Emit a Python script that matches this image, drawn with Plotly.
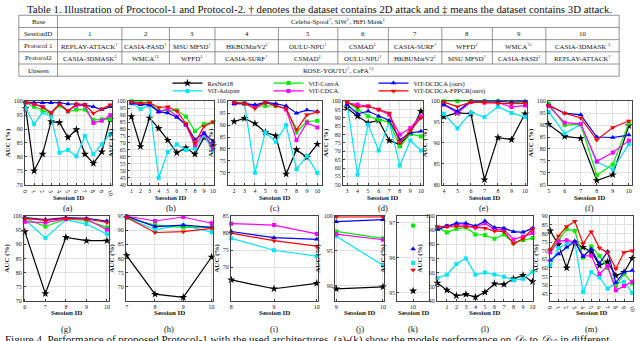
import plotly.graph_objects as go

W, H = 640, 341

# ---------------- table content ----------------
TABLE_TITLE = ("Table 1. Illustration of Proctocol-1 and Protocol-2. † denotes the dataset contains "
               "2D attack and ‡ means the dataset contains 3D attack.")
ROW_HEADERS = ["Base", "SessionID", "Protocol 1", "Protocol2", "Unseen"]
BASE_TEXT = "Celeba-Spoof<sup>†</sup>, SiW<sup>†</sup>, HiFi Mask<sup>‡</sup>"
SESSION_IDS = ["1", "2", "3", "4", "5", "6", "7", "8", "9", "10"]
PROTOCOL1 = ["REPLAY-ATTACK<sup>†</sup>", "CASIA-FASD<sup>†</sup>", "MSU MFSD<sup>†</sup>",
             "HKBUMarV2<sup>‡</sup>", "OULU-NPU<sup>†</sup>", "CSMAD<sup>‡</sup>",
             "CASIA-SURF<sup>†</sup>", "WFFD<sup>‡</sup>", "WMCA<sup>†‡</sup>", "CASIA-3DMASK <sup>‡</sup>"]
PROTOCOL2 = ["CASIA-3DMASK<sup>‡</sup>", "WMCA<sup>†‡</sup>", "WFFD<sup>‡</sup>", "CASIA-SURF<sup>†</sup>",
             "CSMAD<sup>‡</sup>", "OULU-NPU<sup>†</sup>", "HKBUMarV2<sup>‡</sup>", "MSU MFSD<sup>†</sup>",
             "CASIA-FASD<sup>‡</sup>", "REPLAY-ATTACK<sup>†</sup>"]
UNSEEN_TEXT = "ROSE-YOUTU<sup>†</sup>, CeFA<sup>†‡</sup>"

CAPTION = ("Figure 4. Performance of proposed Protocol-1 with the used architectures. (a)-(k) show the "
           "models performance on <i>𝒟</i><sub>0</sub> to <i>𝒟</i><sub>10</sub> in different")

# ---------------- chart data ----------------
MODELS = ["ResNet18", "ViT-Adapter", "ViT-ConvA", "ViT-CDCA", "ViT-DCDCA (ours)", "ViT-DCDCA-FPPCR(ours)"]

SESS_A = [0, 1, 2, 3, 4, 5, 6, 7, 8, 9, 10]
A_RESNET18 = [97.5, 75.0, 81.0, 92.7, 92.3, 87.0, 89.8, 81.0, 77.7, 81.8, 93.5]
A_ADAPTER = [97.5, 91.8, 96.0, 94.5, 81.5, 82.5, 80.2, 87.5, 81.0, 84.5, 88.3]
A_CONVA = [99.5, 98.0, 96.8, 95.5, 98.5, 96.3, 97.0, 97.0, 93.3, 93.5, 93.5]
A_CDCA = [99.5, 99.0, 98.0, 95.8, 99.0, 96.5, 98.5, 98.5, 92.2, 93.0, 95.0]
A_DCDCA = [99.7, 99.5, 99.5, 99.5, 99.5, 99.0, 99.0, 98.7, 98.0, 97.0, 98.0]
A_FPPCR = [99.7, 99.0, 98.0, 95.8, 99.0, 96.5, 99.0, 98.8, 95.7, 97.3, 98.7]

SESS_B = [1, 2, 3, 4, 5, 6, 7, 8, 9, 10]
B_RESNET18 = [89.0, 67.5, 88.0, 80.5, 72.0, 63.0, 66.5, 62.0, 74.0, 68.0]
B_ADAPTER = [98.5, 94.5, 97.0, 45.0, 63.5, 69.0, 65.0, 66.0, 75.5, 64.5]
B_CONVA = [100.0, 99.5, 99.0, 93.0, 93.5, 93.5, 89.0, 78.5, 83.5, 85.0]
B_CDCA = [99.0, 98.0, 97.5, 92.5, 94.5, 89.0, 83.0, 68.5, 77.0, 66.5]
B_DCDCA = [98.5, 97.5, 97.5, 92.5, 91.5, 88.5, 83.5, 72.5, 77.0, 71.0]
B_FPPCR = [99.5, 98.5, 99.0, 95.5, 96.0, 93.0, 84.0, 70.0, 82.0, 85.0]

SESS_C = [2, 3, 4, 5, 6, 7, 8, 9, 10]
C_RESNET18 = [91.5, 92.8, 90.7, 87.0, 85.5, 69.5, 79.7, 76.5, 82.0]
C_ADAPTER = [99.5, 99.0, 70.0, 87.0, 83.0, 90.0, 71.5, 77.0, 70.0]
C_CONVA = [99.5, 99.5, 98.0, 98.0, 98.0, 97.0, 87.0, 91.5, 91.8]
C_CDCA = [99.0, 99.0, 98.0, 99.5, 98.5, 96.5, 83.7, 91.0, 89.0]
C_DCDCA = [99.0, 99.0, 98.5, 99.5, 99.0, 98.0, 95.0, 96.3, 95.7]
C_FPPCR = [99.5, 99.0, 97.0, 99.5, 98.0, 97.0, 88.0, 94.3, 95.5]

SESS_D = [3, 4, 5, 6, 7, 8, 9, 10]
D_RESNET18 = [96.0, 91.0, 87.0, 88.5, 76.5, 74.0, 81.0, 94.0]
D_ADAPTER = [99.0, 56.0, 86.0, 70.5, 87.5, 61.5, 76.5, 70.5]
D_CONVA = [99.5, 95.0, 91.0, 89.0, 87.5, 73.0, 80.5, 79.0]
D_CDCA = [99.0, 98.0, 97.0, 95.0, 92.0, 80.0, 84.0, 91.0]
D_DCDCA = [98.0, 92.5, 94.0, 91.0, 88.5, 77.0, 81.0, 82.0]
D_FPPCR = [99.5, 96.5, 97.0, 95.0, 93.0, 75.0, 82.5, 90.0]

SESS_E = [4, 5, 6, 7, 8, 9, 10]
E_RESNET18 = [96.3, 97.2, 97.0, 81.2, 91.3, 90.8, 97.0]
E_ADAPTER = [97.0, 93.5, 97.3, 96.2, 98.7, 97.2, 96.2]
E_CONVA = [100.0, 100.0, 100.0, 100.0, 100.0, 99.8, 99.8]
E_CDCA = [99.2, 97.2, 99.8, 99.7, 99.7, 98.6, 99.0]
E_DCDCA = [99.2, 97.6, 100.0, 100.0, 100.0, 99.8, 100.0]
E_FPPCR = [99.8, 98.7, 99.8, 99.7, 99.5, 99.4, 99.5]

SESS_F = [5, 6, 7, 8, 9, 10]
F_RESNET18 = [90.3, 85.3, 84.5, 66.8, 69.2, 89.8]
F_ADAPTER = [95.5, 86.5, 90.3, 74.5, 71.5, 82.0]
F_CONVA = [99.0, 90.0, 90.3, 69.0, 73.5, 90.8]
F_CDCA = [98.0, 91.0, 90.5, 74.8, 78.5, 83.5]
F_DCDCA = [98.3, 95.0, 94.3, 85.0, 84.8, 85.8]
F_FPPCR = [98.3, 95.0, 93.0, 83.8, 89.0, 91.7]

SESS_G = [6, 7, 8, 9, 10]
G_RESNET18 = [94.5, 72.5, 92.5, 91.3, 91.3]
G_ADAPTER = [98.8, 92.3, 98.8, 97.2, 93.6]
G_CONVA = [99.2, 96.3, 99.0, 98.5, 96.0]
G_CDCA = [98.0, 97.7, 99.0, 99.0, 95.2]
G_DCDCA = [99.5, 98.8, 99.5, 99.2, 98.3]
G_FPPCR = [99.2, 98.5, 99.2, 99.0, 97.8]

SESS_H = [7, 8, 9, 10]
H_RESNET18 = [81.0, 67.3, 66.2, 80.5]
H_ADAPTER = [94.5, 90.2, 91.8, 89.3]
H_CONVA = [94.5, 91.8, 91.0, 91.0]
H_CDCA = [95.0, 93.3, 94.7, 92.5]
H_DCDCA = [95.0, 91.3, 91.8, 91.0]
H_FPPCR = [94.5, 89.2, 89.5, 90.7]

SESS_I = [8, 9, 10]
I_RESNET18 = [66.3, 63.7, 65.3]
I_ADAPTER = [78.5, 75.0, 73.3]
I_CONVA = None
I_CDCA = [82.8, 82.4, 79.8]
I_DCDCA = [80.5, 78.7, 78.2]
I_FPPCR = [80.0, 77.8, 76.2]

SESS_J = [9, 10]
J_RESNET18 = [89.5, 89.8]
J_ADAPTER = [97.1, 92.9]
J_CONVA = [97.8, 96.8]
J_CDCA = [97.4, 96.6]
J_DCDCA = [99.2, 99.5]
J_FPPCR = [99.9, 99.9]

SESS_K = [10]
K_RESNET18 = [95.05]
K_ADAPTER = [95.85]
K_CONVA = [96.92]
K_CDCA = None
K_DCDCA = [96.25]
K_FPPCR = [95.65]

SESS_L = [0, 1, 2, 3, 4, 5, 6, 7, 8, 9, 10]
L_RESNET18 = [52.5, 47.5, 43.5, 44.5, 42.5, 46.0, 52.0, 51.5, 55.5, 58.0, 53.5]
L_ADAPTER = [56.0, 58.5, 66.0, 70.0, 58.5, 60.0, 58.5, 57.0, 54.5, 55.5, 60.5]
L_CONVA = [92.0, 88.5, 91.0, 92.0, 87.0, 86.5, 84.0, 87.0, 81.0, 83.0, 84.5]
L_CDCA = [92.0, 93.0, 94.0, 93.5, 92.0, 95.0, 90.5, 90.5, 83.5, 85.5, 88.0]
L_DCDCA = [90.5, 93.0, 95.0, 95.0, 93.0, 96.5, 92.0, 91.5, 89.0, 88.5, 91.5]
L_FPPCR = [92.5, 92.5, 93.0, 92.5, 92.0, 91.5, 89.5, 89.0, 80.5, 84.0, 91.0]

SESS_M = [0, 1, 2, 3, 4, 5, 6, 7, 8, 9, 10]
M_RESNET18 = [81.5, 73.5, 60.0, 74.5, 72.0, 69.5, 61.5, 63.5, 55.5, 57.5, 65.5]
M_ADAPTER = [61.5, 71.5, 74.0, 75.0, 46.0, 57.5, 54.5, 48.0, 51.0, 52.0, 45.5]
M_CONVA = [70.5, 76.0, 82.5, 81.5, 66.0, 72.5, 67.0, 60.0, 49.5, 56.5, 51.0]
M_CDCA = [69.0, 75.5, 76.0, 75.0, 67.0, 67.0, 56.5, 61.0, 47.0, 49.5, 52.0]
M_DCDCA = [64.5, 68.0, 72.0, 75.5, 66.5, 71.0, 62.5, 69.5, 51.5, 57.5, 58.5]
M_FPPCR = [70.5, 78.5, 84.0, 87.0, 74.0, 81.0, 71.5, 69.0, 59.5, 69.0, 70.0]

PANELS = [
    ("a", SESS_A, [A_RESNET18, A_ADAPTER, A_CONVA, A_CDCA, A_DCDCA, A_FPPCR]),
    ("b", SESS_B, [B_RESNET18, B_ADAPTER, B_CONVA, B_CDCA, B_DCDCA, B_FPPCR]),
    ("c", SESS_C, [C_RESNET18, C_ADAPTER, C_CONVA, C_CDCA, C_DCDCA, C_FPPCR]),
    ("d", SESS_D, [D_RESNET18, D_ADAPTER, D_CONVA, D_CDCA, D_DCDCA, D_FPPCR]),
    ("e", SESS_E, [E_RESNET18, E_ADAPTER, E_CONVA, E_CDCA, E_DCDCA, E_FPPCR]),
    ("f", SESS_F, [F_RESNET18, F_ADAPTER, F_CONVA, F_CDCA, F_DCDCA, F_FPPCR]),
    ("g", SESS_G, [G_RESNET18, G_ADAPTER, G_CONVA, G_CDCA, G_DCDCA, G_FPPCR]),
    ("h", SESS_H, [H_RESNET18, H_ADAPTER, H_CONVA, H_CDCA, H_DCDCA, H_FPPCR]),
    ("i", SESS_I, [I_RESNET18, I_ADAPTER, I_CONVA, I_CDCA, I_DCDCA, I_FPPCR]),
    ("j", SESS_J, [J_RESNET18, J_ADAPTER, J_CONVA, J_CDCA, J_DCDCA, J_FPPCR]),
    ("k", SESS_K, [K_RESNET18, K_ADAPTER, K_CONVA, K_CDCA, K_DCDCA, K_FPPCR]),
    ("l", SESS_L, [L_RESNET18, L_ADAPTER, L_CONVA, L_CDCA, L_DCDCA, L_FPPCR]),
    ("m", SESS_M, [M_RESNET18, M_ADAPTER, M_CONVA, M_CDCA, M_DCDCA, M_FPPCR]),
]

# ---------------- styling / layout (pixels) ----------------
COLORS = ["#000000", "#00e5ff", "#00ee00", "#ff00ff", "#0000ff", "#ff0000"]
SYMBOLS = ["star", "square", "square", "square", "triangle-up", "triangle-down"]
MSIZES = [6, 4, 4, 4, 5, 5]

ROW_Y = {1: (100, 185), 2: (217, 303)}
SESSION_TITLE_Y = {1: 198, 2: 316}
PANEL_LABEL_Y = {1: 208.5, 2: 331.5}
BOX = {  # left, right, row, xrange, yrange, ytickvals, xtickvals, tickangle
    "a": (22, 110, 1, [-0.1, 10.2], [70, 100], list(range(70, 101, 5)), list(range(0, 11)), 70),
    "b": (126, 213, 1, [0.6, 10.1], [40, 100], list(range(40, 101, 5)), list(range(1, 11)), 0),
    "c": (227, 322, 1, [1.4, 10.45], [65, 100], list(range(70, 101, 5)), list(range(2, 11)), 0),
    "d": (343, 424, 1, [2.6, 10.2], [50, 100], list(range(50, 101, 5)), list(range(3, 11)), 0),
    "e": (443, 529, 1, [3.85, 10.15], [80, 100], list(range(80, 101, 5)), list(range(4, 11)), 0),
    "f": (550, 635, 1, [4.95, 10.2], [65, 100], list(range(65, 101, 5)), list(range(5, 11)), 0),
    "g": (21, 107, 2, [5.95, 10.1], [70, 100], list(range(70, 101, 5)), list(range(6, 11)), 0),
    "h": (124, 212, 2, [6.97, 10.05], [65, 95], list(range(70, 96, 5)), list(range(7, 11)), 0),
    "i": (230, 318, 2, [7.99, 10.03], [60.2, 85], list(range(70, 86, 5)), list(range(8, 11)), 0),
    "j": (335, 385, 2, [8.97, 10.03], [87.8, 100], [90, 95, 100], [9, 10], 0),
    "k": (398, 430, 2, [9.5, 10.5], [94.77, 97.19], [95, 96, 97], [10], 0),
    "l": (438, 535, 2, [-0.05, 10.05], [40, 100], list(range(40, 101, 10)), list(range(1, 11)), 0),
    "m": (552, 636, 2, [-0.05, 10.1], [41, 90], list(range(45, 91, 5)), list(range(0, 11)), 70),
}

SERIF = "Liberation Serif"


def px_x(p):
    return p / W


def px_y(p):
    return 1 - p / H


fig = go.Figure()
layout_axes = {}
annotations = []
shapes = []

for idx, (key, sess, series) in enumerate(PANELS):
    n = idx + 1
    xa = "x" if n == 1 else f"x{n}"
    ya = "y" if n == 1 else f"y{n}"
    left, right, row, xr, yr, ytv, xtv, tang = BOX[key]
    top, bottom = ROW_Y[row]
    for m, vals in enumerate(series):
        if vals is None:
            continue
        legend_id = "legend" if m == 0 else f"legend{m + 1}"
        fig.add_trace(go.Scatter(
            x=sess, y=vals, mode="lines+markers", name=MODELS[m],
            line=dict(color=COLORS[m], width=1.2),
            marker=dict(symbol=SYMBOLS[m], size=MSIZES[m], color=COLORS[m], line=dict(width=0)),
            xaxis=xa, yaxis=ya, cliponaxis=False,
            showlegend=(key == "a"), legend=legend_id, hoverinfo="skip",
        ))
    axis_common = dict(showline=True, mirror=True, linecolor="#444", linewidth=0.7,
                       showgrid=True, gridcolor="#e2e2e2", gridwidth=0.6, zeroline=False,
                       ticks="inside", ticklen=2, tickcolor="#444",
                       tickfont=dict(family=SERIF, size=6, color="#222"))
    layout_axes["xaxis" if n == 1 else f"xaxis{n}"] = dict(
        domain=[px_x(left), px_x(right)], anchor=ya, range=xr,
        tickmode="array", tickvals=xtv, ticktext=[str(v) for v in xtv], tickangle=tang,
        **axis_common)
    layout_axes["yaxis" if n == 1 else f"yaxis{n}"] = dict(
        domain=[px_y(bottom), px_y(top)], anchor=xa, range=yr,
        tickmode="array", tickvals=ytv, ticktext=[str(v) for v in ytv],
        title=dict(text="<b>AUC (%)</b>", font=dict(family=SERIF, size=7, color="#111"), standoff=2),
        **axis_common)
    cxp = px_x((left + right) / 2)
    annotations.append(dict(text="<b>Session ID</b>", x=cxp, y=px_y(SESSION_TITLE_Y[row]),
                            xref="paper", yref="paper", showarrow=False,
                            font=dict(family=SERIF, size=7, color="#111"),
                            xanchor="center", yanchor="middle", borderpad=0))
    annotations.append(dict(text=f"({key})", x=cxp, y=px_y(PANEL_LABEL_Y[row]),
                            xref="paper", yref="paper", showarrow=False,
                            font=dict(family=SERIF, size=8.5, color="#111"),
                            xanchor="center", yanchor="middle", borderpad=0))

# ---------------- legends (one per model) ----------------
LEG_X = [166, 268, 374]
LEG_Y = [81.5, 89.5]
legends = {}
for m in range(6):
    col, r = m // 2, m % 2
    lid = "legend" if m == 0 else f"legend{m + 1}"
    legends[lid] = dict(x=px_x(LEG_X[col]), y=px_y(LEG_Y[r]), xanchor="left", yanchor="middle",
                        xref="paper", yref="paper", bgcolor="rgba(0,0,0,0)", borderwidth=0,
                        itemwidth=30, font=dict(family=SERIF, size=6.5, color="#111"),
                        orientation="v", tracegroupgap=0)

# ---------------- table ----------------
T_LEFT, T_RIGHT = 16, 622
ROW_LINES = [12.5, 24.9, 37.3, 49.7, 62.1, 74.5]
COL_LINES = [55, 120, 168, 214, 278, 338, 389, 443, 494, 548, 622]
LC = "#666"
for yv in ROW_LINES:
    shapes.append(dict(type="line", xref="paper", yref="paper", x0=px_x(T_LEFT), x1=px_x(T_RIGHT),
                       y0=px_y(yv), y1=px_y(yv), line=dict(color=LC, width=0.7)))
for xv in [T_LEFT, COL_LINES[0], T_RIGHT]:
    shapes.append(dict(type="line", xref="paper", yref="paper", x0=px_x(xv), x1=px_x(xv),
                       y0=px_y(ROW_LINES[0]), y1=px_y(ROW_LINES[-1]), line=dict(color=LC, width=0.7)))
for xv in COL_LINES[1:-1]:
    shapes.append(dict(type="line", xref="paper", yref="paper", x0=px_x(xv), x1=px_x(xv),
                       y0=px_y(ROW_LINES[1]), y1=px_y(ROW_LINES[4]), line=dict(color=LC, width=0.7)))

TFONT = dict(family=SERIF, size=6.9, color="#111")


def cell(text, cx, cy):
    annotations.append(dict(text=text, x=px_x(cx), y=px_y(cy), xref="paper", yref="paper",
                            showarrow=False, font=TFONT, xanchor="center", yanchor="middle",
                            borderpad=0))


row_centers = [(ROW_LINES[i] + ROW_LINES[i + 1]) / 2 for i in range(5)]
for i, h in enumerate(ROW_HEADERS):
    cell(h, (T_LEFT + COL_LINES[0]) / 2, row_centers[i])
cell(BASE_TEXT, (COL_LINES[0] + T_RIGHT) / 2, row_centers[0])
cell(UNSEEN_TEXT, (COL_LINES[0] + T_RIGHT) / 2, row_centers[4])
for c in range(10):
    cx = (COL_LINES[c] + COL_LINES[c + 1]) / 2
    cell(SESSION_IDS[c], cx, row_centers[1])
    cell(PROTOCOL1[c], cx, row_centers[2])
    cell(PROTOCOL2[c], cx, row_centers[3])

annotations.append(dict(text=TABLE_TITLE, x=px_x(319), y=px_y(6), xref="paper", yref="paper",
                        showarrow=False, font=dict(family=SERIF, size=10.8, color="#111"),
                        xanchor="center", yanchor="middle", borderpad=0))
annotations.append(dict(text=CAPTION, x=px_x(1), y=px_y(343), xref="paper", yref="paper",
                        showarrow=False, font=dict(family=SERIF, size=11, color="#111"),
                        xanchor="left", yanchor="middle", borderpad=0))

fig.update_layout(
    width=W, height=H, autosize=False,
    margin=dict(l=0, r=0, t=0, b=0),
    paper_bgcolor="white", plot_bgcolor="white",
    annotations=annotations, shapes=shapes,
    **layout_axes, **legends,
)

# remove the browser's default 8px page margin so the figure sits at the window origin
fig.write_html("out.html", config={"displayModeBar": False},
               post_script="document.body.style.margin='0px';")
